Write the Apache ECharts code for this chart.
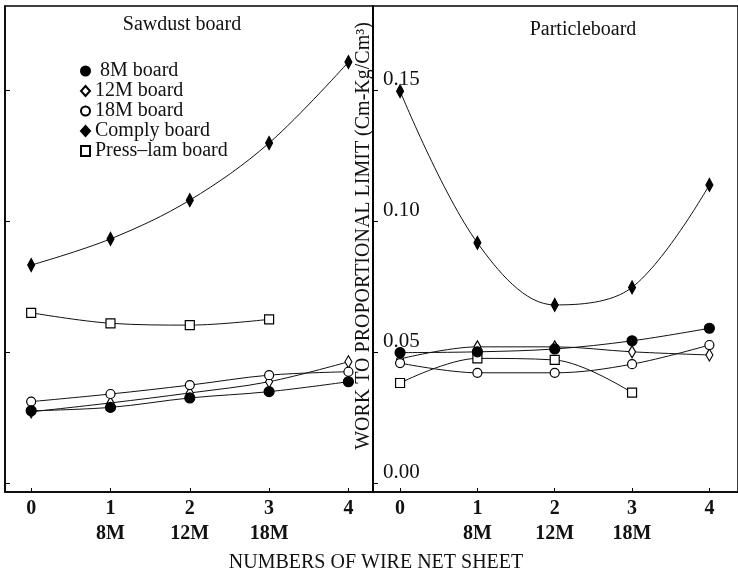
<!DOCTYPE html>
<html>
<head>
<meta charset="utf-8">
<title>Work to proportional limit</title>
<script src="https://cdn.jsdelivr.net/npm/echarts@6/dist/echarts.min.js"></script>
<style>
    html, body { margin: 0; padding: 0; background: #fff; }
    #js_chart { width: 738px; height: 575px; }
</style>
</head>
<body>
<div id="js_chart"></div>
<script>
// 横轴刻度
var xTicks = [0, 1, 2, 3, 4];
var xTickLabels = ['0', '1\n8M', '2\n12M', '3\n18M', '4'];
var yTicks = [0, 0.05, 0.10, 0.15];
var seriesNames = ['8M board', '12M board', '18M board', 'Comply board', 'Press\u2013lam board'];

// Sawdust board
var sawdust8M = [0.0275, 0.0288, 0.0324, 0.0348, 0.0386];
var sawdust12M = [0.0271, 0.0305, 0.0343, 0.0386, 0.0462];
var sawdust18M = [0.0310, 0.0339, 0.0373, 0.0411, 0.0424];
var sawdustComply = [0.0831, 0.0931, 0.1079, 0.1297, 0.1606];
var sawdustPress = [0.0649, 0.0609, 0.0602, 0.0624];

// Particleboard
var particle8M = [0.0497, 0.0500, 0.0511, 0.0542, 0.0590];
var particle12M = [0.0473, 0.0519, 0.0519, 0.0500, 0.0488];
var particle18M = [0.0457, 0.0420, 0.0420, 0.0453, 0.0526];
var particleComply = [0.1495, 0.0916, 0.0679, 0.0746, 0.1137];
var particlePress = [0.0381, 0.0475, 0.0469, 0.0344];

var font = 'Liberation Serif';
var ink = '#111';

var markers = [
    { symbol: 'circle', size: 10, fill: '#000', icon: 'circle' },
    { symbol: 'diamond', size: [7, 12], fill: '#fff', icon: 'diamond' },
    { symbol: 'circle', size: 9, fill: '#fff', icon: 'circle' },
    { symbol: 'diamond', size: [7, 13], fill: '#000', icon: 'diamond' },
    { symbol: 'rect', size: 9, fill: '#fff', icon: 'rect' }
];

function makeSeries(idx, values, gridIdx) {
    var m = markers[idx];
    return {
        name: seriesNames[idx],
        type: 'line',
        xAxisIndex: gridIdx,
        yAxisIndex: gridIdx,
        data: values.map(function(v, i) { return [xTicks[i], v]; }),
        smooth: 0.35,
        symbol: m.symbol,
        symbolSize: m.size,
        showSymbol: true,
        lineStyle: { color: ink, width: 1 },
        itemStyle: { color: m.fill, borderColor: '#000', borderWidth: 1.2 },
        emphasis: { disabled: true },
        z: idx === 0 || idx === 3 ? 3 : 2
    };
}

function makeX(gridIdx, min, max) {
    return {
        type: 'value',
        gridIndex: gridIdx,
        min: min,
        max: max,
        axisLine: { show: true, onZero: false, lineStyle: { color: '#000', width: 1.5 } },
        axisTick: { show: true, inside: true, length: 4, customValues: xTicks, lineStyle: { color: '#000' } },
        axisLabel: {
            customValues: xTicks,
            formatter: function(v) { return xTickLabels[xTicks.indexOf(v)]; },
            fontFamily: font,
            fontSize: 20,
            fontWeight: 'bold',
            color: ink,
            lineHeight: 25,
            margin: 4
        },
        splitLine: { show: false }
    };
}

function makeY(gridIdx, showLabel) {
    return {
        type: 'value',
        gridIndex: gridIdx,
        min: -0.0035,
        max: 0.182,
        axisLine: { show: true, onZero: false, lineStyle: { color: '#000', width: 1.5 } },
        axisTick: { show: true, inside: true, length: 5, customValues: yTicks, lineStyle: { color: '#000' } },
        axisLabel: {
            show: showLabel,
            inside: true,
            customValues: yTicks,
            formatter: function(v) { return v.toFixed(2); },
            fontFamily: font,
            fontSize: 21,
            color: ink,
            margin: 10,
            verticalAlign: 'bottom'
        },
        splitLine: { show: false }
    };
}

var option = {
    backgroundColor: '#fff',
    animation: false,
    grid: [
        { left: 5, top: 6, width: 368, height: 486, show: true, borderColor: '#000', borderWidth: 1.5 },
        { left: 373, top: 6, width: 372, height: 486, show: true, borderColor: '#000', borderWidth: 1.5 }
    ],
    xAxis: [makeX(0, -0.33, 4.31), makeX(1, -0.35, 4.37)],
    yAxis: [makeY(0, false), makeY(1, true)],
    legend: {
        orient: 'vertical',
        left: 80,
        top: 61,
        padding: 0,
        itemWidth: 9,
        itemHeight: 10,
        itemGap: 0,
        selectedMode: false,
        data: seriesNames.map(function(n, i) { return { name: n, icon: markers[i].icon }; }),
        formatter: function(n) { return n === seriesNames[0] ? ' ' + n : n; },
        textStyle: { fontFamily: font, fontSize: 20, color: ink, lineHeight: 18 }
    },
    graphic: [
        { type: 'text', x: 182, y: 25, style: { text: 'Sawdust board', font: '20px "Liberation Serif"', fill: ink, textAlign: 'center', textVerticalAlign: 'middle' } },
        { type: 'text', x: 583, y: 30, style: { text: 'Particleboard', font: '20px "Liberation Serif"', fill: ink, textAlign: 'center', textVerticalAlign: 'middle' } },
        { type: 'text', x: 376, y: 563, style: { text: 'NUMBERS OF WIRE NET SHEET', font: '20px "Liberation Serif"', fill: ink, textAlign: 'center', textVerticalAlign: 'middle' } },
        { type: 'text', x: 364, y: 236, rotation: Math.PI / 2, style: { text: 'WORK TO PROPORTIONAL LIMIT (Cm-Kg/Cm\u00b3)', font: '20px "Liberation Serif"', fill: ink, textAlign: 'center', textVerticalAlign: 'middle' } }
    ],
    series: [
        makeSeries(0, sawdust8M, 0),
        makeSeries(1, sawdust12M, 0),
        makeSeries(2, sawdust18M, 0),
        makeSeries(3, sawdustComply, 0),
        makeSeries(4, sawdustPress, 0),
        makeSeries(0, particle8M, 1),
        makeSeries(1, particle12M, 1),
        makeSeries(2, particle18M, 1),
        makeSeries(3, particleComply, 1),
        makeSeries(4, particlePress, 1)
    ]
};

var chart = echarts.init(document.getElementById('js_chart'));
chart.setOption(option, true);
</script>
</body>
</html>
